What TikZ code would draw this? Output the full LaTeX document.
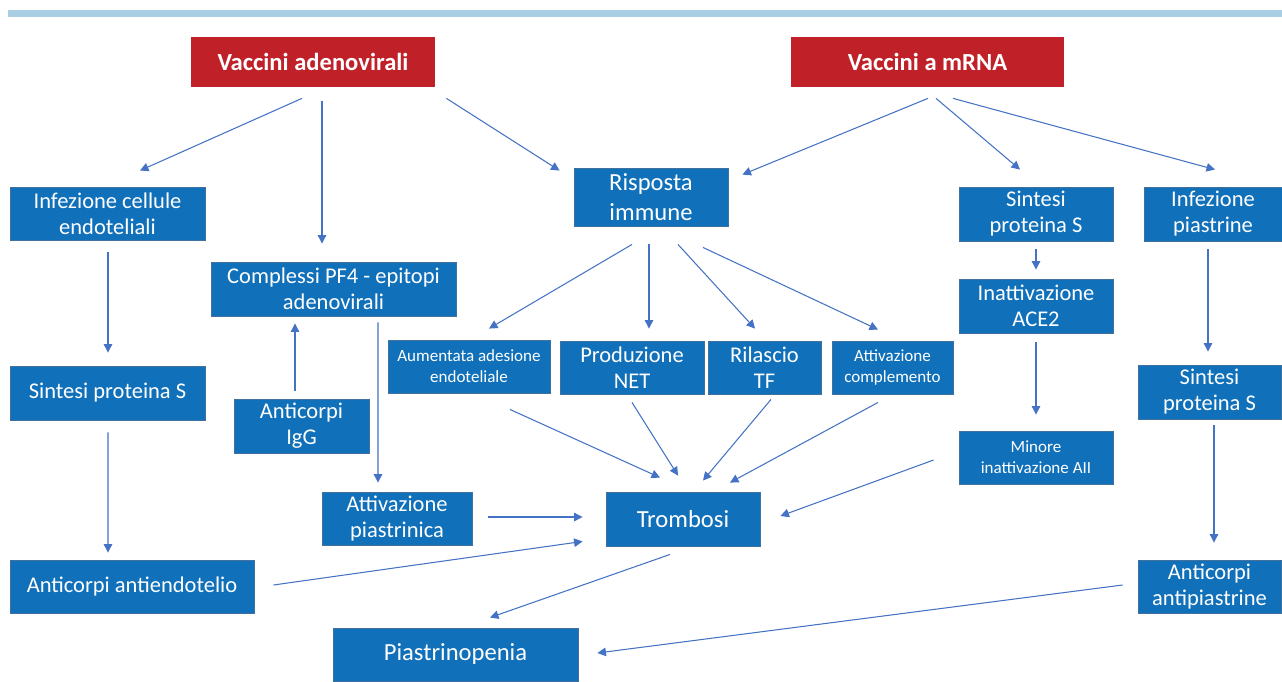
\documentclass[tikz,border=0pt]{standalone}
\usepackage{fontspec}
\setmainfont{Carlito}
\usetikzlibrary{arrows.meta, calc}

\definecolor{boxblue}{RGB}{16,112,186}
\definecolor{boxline}{RGB}{65,113,156}
\definecolor{vaxred}{RGB}{192,32,40}
\definecolor{arrowblue}{RGB}{68,114,196}
\definecolor{barblue}{RGB}{168,206,228}

\tikzset{
    boxsize/.style 2 args={minimum width=#1*0.02cm, minimum height=#2*0.02cm},
    box/.style={draw=boxline, line width=0.5pt, fill=boxblue, text=white,
                align=center, inner sep=0pt, font=\fontsize{12.8}{14.8}\selectfont},
    vax/.style={fill=vaxred, text=white, inner sep=0pt,
                font=\bfseries\fontsize{14}{16}\selectfont},
    smalltext/.style={font=\fontsize{9.7}{12}\selectfont},
    bigtext/.style={font=\fontsize{14}{17}\selectfont}
}

\begin{document}
\begin{tikzpicture}[x=0.02cm, y=-0.02cm]
\useasboundingbox (0,0) rectangle (1282,681);
\fill[barblue] (8,10) rectangle (1282,16.5);

\node[vax, boxsize={244}{50}] (vad) at (313,62) {Vaccini adenovirali};
\node[vax, boxsize={273}{50}] (vmr) at (927.5,62) {Vaccini a mRNA};

\begin{scope}[every node/.style={box}]
    \node[boxsize={195}{53}] (inf) at (107.5,213.5) {Infezione cellule\\endoteliali};
    \node[boxsize={154}{58}, bigtext] (ris) at (651,197) {Risposta\\immune};
    \node[boxsize={154}{54}] (sps) at (1036,214) {Sintesi\\proteina S};
    \node[boxsize={138}{54}] (ipl) at (1213,214) {Infezione\\piastrine};
    \node[boxsize={245}{54}] (pf4) at (333.5,289) {Complessi PF4 - epitopi\\adenovirali};
    \node[boxsize={154}{54}] (ace) at (1036,306) {Inattivazione\\ACE2};
    \node[boxsize={195}{54}] (spl) at (107.5,393) {Sintesi proteina S};
    \node[boxsize={162}{53}, smalltext] (ade) at (469,366.5) {Aumentata adesione\\endoteliale};
    \node[boxsize={144}{53}] (net) at (632,367.5) {Produzione\\NET};
    \node[boxsize={113}{53}] (tf) at (764.5,367.5) {Rilascio\\TF};
    \node[boxsize={121}{53}, smalltext] (com) at (892.5,367.5) {Attivazione\\complemento};
    \node[boxsize={135}{54}] (igg) at (301.5,426) {Anticorpi\\IgG};
    \node[boxsize={143}{54}] (spr) at (1209.5,392) {Sintesi\\proteina S};
    \node[boxsize={154}{53}, smalltext] (min) at (1036,457.5) {Minore\\inattivazione AII};
    \node[boxsize={150}{53}] (atp) at (397,518.5) {Attivazione\\piastrinica};
    \node[boxsize={154}{54}, bigtext] (tro) at (683,519) {Trombosi};
    \node[boxsize={244}{53}] (ant) at (132,586.5) {Anticorpi antiendotelio};
    \node[boxsize={143}{53}] (apl) at (1209.5,586.5) {Anticorpi\\antipiastrine};
    \node[boxsize={245}{53}, bigtext] (pia) at (455.5,654.5) {Piastrinopenia};
\end{scope}

\begin{scope}[>={Triangle[length=1.7mm, width=1.7mm]},
              every edge/.style={draw=arrowblue, line width=0.6pt}]
    % adenovirali
    \path [->] ($(vad.south)+(-11,11)$) edge ($(inf.north)+(32.5,-16)$);
    \path [->] ($(vad.south)+(9,14)$) edge ($(pf4.north)+(-11.5,-18)$);
    \path [->] ($(vad.south east)+(11,11)$) edge ($(ris.north west)+(-14,3)$);
    % mRNA
    \path [->] ($(vmr.south)+(0.5,11)$) edge ($(ris.north east)+(14,7)$);
    \path [->] ($(vmr.south)+(8.5,11)$) edge ($(sps.north)+(-16,-17)$);
    \path [->] ($(vmr.south)+(25.5,11)$) edge ($(ipl.north)+(2,-17)$);
    % left column
    \path [->] ($(inf.south)+(0.5,12)$) edge ($(spl.north)+(0.5,-13)$);
    \path [->] ($(spl.south)+(0.5,12)$) edge ($(ant.north)+(-24,-7)$);
    % risposta immune
    \path [->] ($(ris.south)+(-19,18)$) edge ($(ade.north)+(20,-11)$);
    \path [->] ($(ris.south)+(-2,18)$) edge ($(net.north)+(17,-12)$);
    \path [->] ($(ris.south)+(27,18)$) edge ($(tf.north)+(-9.5,-12)$);
    \path [->] ($(ris.south)+(52,21)$) edge ($(com.north)+(-14.5,-11)$);
    % PF4
    \path [->] ($(igg.north)+(-6.5,-8)$) edge ($(pf4.south)+(-38.5,7)$);
    \path [->] ($(pf4.south)+(44.5,6)$) edge ($(atp.north)+(-19,-9)$);
    % right columns
    \path [->] ($(sps.south)+(0,8)$) edge ($(ace.north)+(0,-9)$);
    \path [->] ($(ace.south)+(0,9)$) edge ($(min.north)+(0,-16)$);
    \path [->] ($(ipl.south)+(-5,8)$) edge ($(spr.north)+(-1.5,-13)$);
    \path [->] ($(spr.south)+(4.5,6)$) edge ($(apl.north)+(4.5,-17)$);
    % trombosi
    \path [->] ($(ade.south)+(41,16)$) edge ($(tro.north)+(-23,-14)$);
    \path [->] ($(net.south)+(0,8)$) edge ($(tro.north)+(-5,-16)$);
    \path [->] ($(tf.south)+(6.5,5)$) edge ($(tro.north)+(20,-11)$);
    \path [->] ($(com.south)+(-14.5,8)$) edge ($(tro.north)+(47,-9)$);
    \path [->] ($(min.west)+(-25,2.5)$) edge ($(tro.east)+(20,-3)$);
    \path [->] ($(atp.east)+(16,-1.5)$) edge ($(tro.west)+(-23,-2)$);
    \path [->] ($(ant.east)+(19,-1.5)$) edge ($(tro.south west)+(-23,-5)$);
    % piastrinopenia
    \path [->] ($(tro.south)+(-13,8)$) edge ($(pia.north)+(34.5,-10)$);
    \path [->] ($(apl.west)+(-15,-1.5)$) edge ($(pia.east)+(19,-1.5)$);
\end{scope}
\end{tikzpicture}
\end{document}
